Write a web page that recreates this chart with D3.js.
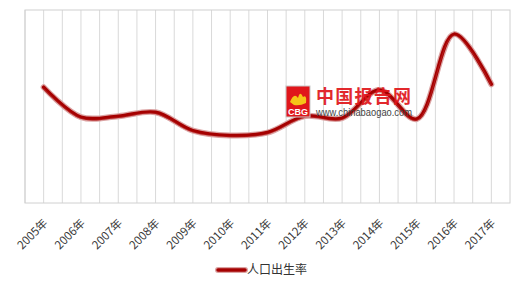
<!DOCTYPE html>
<html>
<head>
<meta charset="utf-8">
<script src="https://cdn.jsdelivr.net/npm/d3@7"></script>
<style>
  body { margin: 0; background: #fff; }
  #chart { width: 520px; height: 290px; }
  text { font-family: "Microsoft YaHei", "Noto Sans CJK SC", sans-serif; }
</style>
</head>
<body>
<div id="chart"></div>
<script>
// Data
const years = ["2005年", "2006年", "2007年", "2008年", "2009年", "2010年", "2011年",
  "2012年", "2013年", "2014年", "2015年", "2016年", "2017年"];
const birthRate = [12.40, 12.09, 12.10, 12.14, 11.95, 11.90, 11.93, 12.10, 12.08, 12.37, 12.07, 12.95, 12.43];
const seriesName = "人口出生率";
const yDomain = [11.2, 13.2];

const W = 520, H = 290;
const margin = { top: 10, right: 10, bottom: 87, left: 25 };
const width = W - margin.left - margin.right;
const height = H - margin.top - margin.bottom;

const svg = d3.select("#chart").append("svg")
  .attr("width", W).attr("height", H);

const g = svg.append("g")
  .attr("transform", "translate(" + margin.left + "," + margin.top + ")");

const x = d3.scaleBand().domain(years).range([0, width]);
const y = d3.scaleLinear().domain(yDomain).range([height, 0]);

// Vertical gridlines: band edges and band centres
const gridPos = [];
years.forEach(function (d) {
  gridPos.push(x(d));
  gridPos.push(x(d) + x.bandwidth() / 2);
});
g.append("g").selectAll("line")
  .data(gridPos)
  .enter().append("line")
  .attr("x1", d => d).attr("x2", d => d)
  .attr("y1", 0).attr("y2", height)
  .style("stroke", "#d9d9d9").style("stroke-width", 1);

// Plot border
g.append("rect")
  .attr("width", width).attr("height", height)
  .style("fill", "none").style("stroke", "#d0d0d0").style("stroke-width", 1);

// X axis labels
const xAxis = g.append("g")
  .attr("transform", "translate(0," + height + ")")
  .call(d3.axisBottom(x).tickSize(0).tickPadding(0));
xAxis.select(".domain").remove();
xAxis.selectAll("text")
  .attr("transform", "translate(2,18) rotate(-45)")
  .attr("dy", "0.35em")
  .attr("y", 0)
  .style("text-anchor", "end")
  .style("font-size", "11.5px")
  .style("fill", "#3a3a3a");

// Line
const line = d3.line()
  .x((d, i) => x(years[i]) + x.bandwidth() / 2)
  .y(d => y(d))
  .curve(d3.curveCatmullRom.alpha(0.5));

g.append("path").datum(birthRate).attr("d", line)
  .style("fill", "none").style("stroke", "#dba3a3").style("stroke-width", 6)
  .style("stroke-linecap", "round");
g.append("path").datum(birthRate).attr("d", line)
  .style("fill", "none").style("stroke", "#a50000").style("stroke-width", 3.5)
  .style("stroke-linecap", "round");
g.append("path").datum(birthRate).attr("d", line)
  .style("fill", "none").style("stroke", "#c84848").style("stroke-width", 0.8)
  .attr("transform", "translate(0,1.5)")
  .style("opacity", 0.5);

// Watermark (sits on top of the line)
const wm = g.append("g").attr("transform", "translate(261,76)");
wm.append("rect").attr("width", 24).attr("height", 31)
  .style("fill", "#e0161b").style("stroke", "#c9c9c9").style("stroke-width", 1);
wm.append("path")
  .attr("d", "M4,16 Q8,6 12,12 Q14,4 17,11 Q21,8 20,17 Q14,20 8,19 Z")
  .style("fill", "#f5c518");
wm.append("text").attr("x", 12).attr("y", 29).attr("text-anchor", "middle")
  .style("font-size", "9px").style("font-weight", "bold").style("fill", "#fff")
  .style("font-family", "Arial, sans-serif").text("CBG");
wm.append("text").attr("x", 30).attr("y", 17)
  .style("font-size", "18px").style("font-weight", "bold").style("fill", "#e0161b")
  .style("opacity", 0.92)
  .attr("textLength", 95).attr("lengthAdjust", "spacing")
  .text("中国报告网");
wm.append("text").attr("x", 30).attr("y", 30)
  .style("font-size", "10px").style("fill", "#444")
  .style("font-family", "Arial, sans-serif")
  .attr("textLength", 96).attr("lengthAdjust", "spacingAndGlyphs")
  .text("www.chinabaogao.com");

// Legend
const lg = svg.append("g").attr("transform", "translate(218,270)");
lg.append("line").attr("x1", 0).attr("x2", 27).attr("y1", 0).attr("y2", 0)
  .style("stroke", "#dba3a3").style("stroke-width", 6).style("stroke-linecap", "round");
lg.append("line").attr("x1", 0).attr("x2", 27).attr("y1", 0).attr("y2", 0)
  .style("stroke", "#a50000").style("stroke-width", 3.5).style("stroke-linecap", "round");
lg.append("text").attr("x", 29).attr("y", 0).attr("dy", "0.35em")
  .style("font-size", "12px").style("fill", "#333")
  .text(seriesName);
</script>
</body>
</html>
